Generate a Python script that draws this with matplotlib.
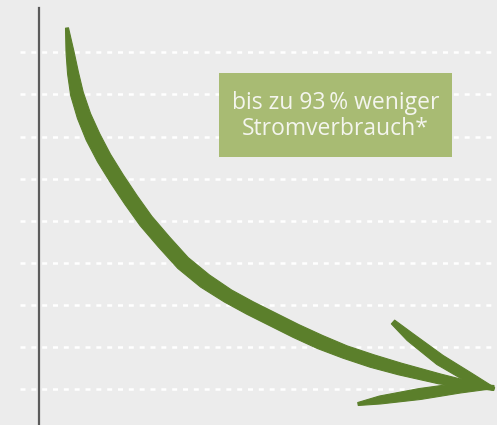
import numpy as np
import matplotlib.pyplot as plt

plt.rcParams['lines.scale_dashes'] = False

# horizontal dashed guide lines (pixel rows)
gridY = [52, 94, 137, 179, 221, 263, 305, 347, 389]

# main arrow stroke: centre points and stroke width (pixels)
curveX = [67, 70, 73, 77, 84, 93, 104, 117, 131, 146, 164, 183, 205, 228, 250, 272, 296, 320, 345, 372, 400, 440, 494]
curveY = [28, 52, 73, 94, 116, 137, 158, 179, 200, 221, 242, 263, 281, 296, 308, 319, 331, 342, 352, 361, 369, 379, 389]
curveW = [3, 8, 11, 13, 14, 15, 15, 15, 15, 15, 15, 15, 15, 14, 14, 14, 14, 14, 13, 13, 12, 10, 3]

# arrow head barbs
barbTopX = [393, 410, 440, 470, 494]
barbTopY = [322, 337, 360, 378, 389]
barbTopW = [5, 9, 11, 10, 3]
barbLowX = [358, 380, 420, 460, 494]
barbLowY = [404, 400, 394, 388, 387]
barbLowW = [3, 8, 11, 10, 3]

boxText = "bis zu 93\u2009% weniger\nStromverbrauch*"

bg = '#ececec'
green = '#5b7f2b'

fig = plt.figure(figsize=(4.97, 4.25), dpi=100)
fig.patch.set_facecolor(bg)
ax = fig.add_axes([0, 0, 1, 1])
ax.set_facecolor(bg)
ax.set_xlim(0, 497)
ax.set_ylim(425, 0)
ax.axis('off')

for y in gridY:
    ax.plot([20, 497], [y, y], color='white', lw=1.8, linestyle=(0, (3.6, 4.2)),
            solid_capstyle='butt', zorder=1)

# vertical axis line
ax.plot([39, 39], [8, 425], color='#5a5a5a', lw=1.6, zorder=2)


def stroke(xs, ys, ws):
    # build a filled outline with varying width around the centre line
    x = np.array(xs, float)
    y = np.array(ys, float)
    w = np.array(ws, float) / 2
    dx = np.gradient(x)
    dy = np.gradient(y)
    n = np.hypot(dx, dy)
    nx, ny = -dy / n, dx / n
    left = np.column_stack([x + nx * w, y + ny * w])
    right = np.column_stack([x - nx * w, y - ny * w])
    poly = np.vstack([left, right[::-1]])
    ax.fill(poly[:, 0], poly[:, 1], color=green, lw=0.8, ec=green, joinstyle='round', zorder=3)


stroke(curveX, curveY, curveW)
stroke(barbTopX, barbTopY, barbTopW)
stroke(barbLowX, barbLowY, barbLowW)

# green label box
ax.add_patch(plt.Rectangle((219, 73), 233, 84, facecolor='#a8bb73', edgecolor='none', zorder=4))
ax.text(335.5, 116, boxText, ha='center', va='center', fontsize=16.5,
        family=['Open Sans', 'DejaVu Sans'], color='#f4f5ee', linespacing=1.12, zorder=5)

fig.savefig('out.png', dpi=100, facecolor=bg)
